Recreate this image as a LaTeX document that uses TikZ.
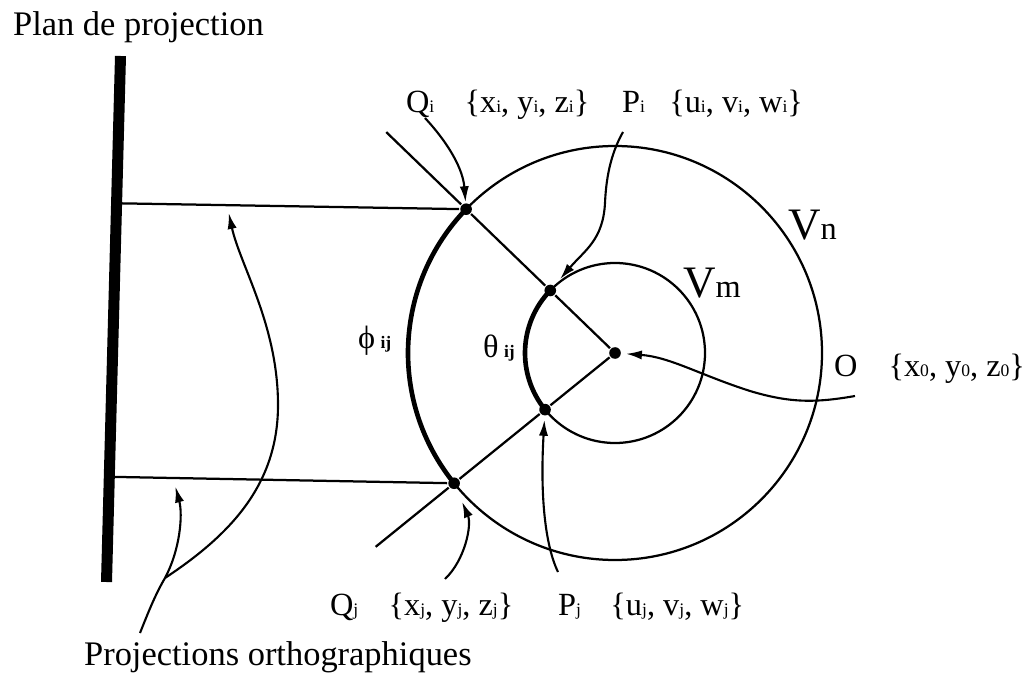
\documentclass[tikz,border=0pt]{standalone}
\usepackage{fontspec}
\setmainfont{Liberation Serif}
\usetikzlibrary{arrows.meta,positioning,calc}
\newcommand{\lo}[1]{{\fontsize{12.5pt}{12.5pt}\selectfont #1}}

\begin{document}
\begin{tikzpicture}[
    x=0.025cm, y=0.025cm,
    line width=1.6pt,
    dot/.style={circle, fill=black, inner sep=0pt, minimum size=0.29cm},
    lab/.style={inner sep=0pt, anchor=base west, font=\fontsize{23pt}{26pt}\selectfont},
    title/.style={inner sep=0pt, anchor=base west, font=\fontsize{24.5pt}{28pt}\selectfont},
    greek/.style={inner sep=0pt, anchor=base west, font=\fontsize{23pt}{25pt}\selectfont},
    rim/.style={line width=3.3pt},
    pointer/.style={-{Latex[length=0.4cm,width=0.23cm]}, line width=1.5pt}
]
    \useasboundingbox (0,0) rectangle (1030,685);

    % plan de projection
    \coordinate (Btop) at (120.5,629);
    \coordinate (Bbot) at (106.5,103);
    \draw[line width=0.275cm] (Btop) -- (Bbot);
    \node[title] (plan) at (12,649) {Plan de projection};

    % spheres
    \node[dot] (O) at (615,332) {};
    \draw (O.center) circle[radius=207];
    \draw (O.center) circle[radius=90];

    \node[dot] (Qi) at ($(O)+(136:207)$) {};
    \node[dot] (Pi) at ($(O)+(136:90)$) {};
    \node[dot] (Qj) at ($(O)+(219:207)$) {};
    \node[dot] (Pj) at ($(O)+(219:90)$) {};
    \coordinate (Ei) at ($(O)+(136:318)$);
    \coordinate (Ej) at ($(O)+(219:308)$);

    \draw (Ei) -- (Qi) -- (Pi) -- (O);
    \draw (Ej) -- (Qj) -- (Pj) -- (O);
    \draw[rim] (Qi.center) arc[start angle=136, end angle=219, radius=207];
    \draw[rim] (Pi.center) arc[start angle=136, end angle=219, radius=90];

    % projections
    \coordinate (Ai) at ($(Bbot)!0.72!(Btop)$);
    \coordinate (Aj) at ($(Bbot)!0.2!(Btop)$);
    \draw (Ai) -- (Qi);
    \draw (Aj) -- (Qj);

    % labels
    \node[lab] (Qilab) at (405,572) {Q\lo{i}};
    \node[lab, base right=0.7cm of Qilab] (Qiset) {\{x\lo{i}, y\lo{i}, z\lo{i}\}};
    \node[lab] (Pilab) at (621,572) {P\lo{i}};
    \node[lab, base right=0.55cm of Pilab] (Piset) {\{u\lo{i}, v\lo{i}, w\lo{i}\}};
    \node[lab] (Qjlab) at (329,70) {Q\lo{j}};
    \node[lab, base right=0.7cm of Qjlab] (Qjset) {\{x\lo{j}, y\lo{j}, z\lo{j}\}};
    \node[lab] (Pjlab) at (557,70) {P\lo{j}};
    \node[lab, base right=0.68cm of Pjlab] (Pjset) {\{u\lo{j}, v\lo{j}, w\lo{j}\}};
    \node[lab] (Olab) at (833,309) {O};
    \node[lab, base right=0.72cm of Olab] (Oset) {\{x\lo{0}, y\lo{0}, z\lo{0}\}};
    \node[lab] (Vn) at (787,445) {{\fontsize{32pt}{34pt}\selectfont V}n};
    \node[lab] (Vm) at (682,387) {{\fontsize{32pt}{34pt}\selectfont V}m};
    \node[greek] (phi) at (357,336) {ϕ\,\lo{\bfseries ij}};
    \node[greek] (theta) at (482,327) {θ\,\lo{\bfseries ij}};
    \node[title] (proj) at (83,20) {Projections orthographiques};

    % pointers
    \coordinate (Qitail) at (425,567);
    \coordinate (Pitail) at (623,553);
    \coordinate (Otail) at (855,289);
    \coordinate (Qjtail) at (445,106);
    \coordinate (Pjtail) at (558,113);
    \coordinate (Prtail) at (140,52);
    \coordinate (Fork) at (165,107);
    \coordinate (Hi) at ($(Ai)!0.316!(Qi)$);
    \coordinate (Hj) at ($(Aj)!0.185!(Qj)$);

    \draw[pointer] (Qitail) .. controls (450,540) and (463,515) .. (Qi);
    \draw[pointer, shorten >=0.2cm] (Pitail) .. controls (610,530) and (606,505) .. (605,482) .. controls (603,445) and (585,435) .. (Pi);
    \draw[pointer, shorten >=0.1cm] (Otail) .. controls (815,282) and (790,282) .. (750,294) .. controls (700,310) and (670,328) .. (O);
    \draw[pointer, shorten >=0.33cm] (Qjtail) .. controls (465,125) and (472,160) .. (Qj);
    \draw[pointer, shorten >=0.08cm] (Pjtail) .. controls (545,140) and (540,190) .. (Pj);
    \draw[line width=1.5pt] (Prtail) .. controls (148,72) and (155,90) .. (Fork);
    \draw[pointer, shorten >=0.2cm] (Fork) .. controls (230,150) and (278,200) .. (278,280) .. controls (278,360) and (240,420) .. (Hi);
    \draw[pointer, shorten >=0.22cm] (Fork) .. controls (180,135) and (183,170) .. (Hj);
\end{tikzpicture}
\end{document}
